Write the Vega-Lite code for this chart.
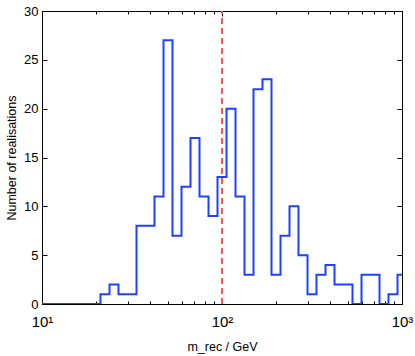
{
  "$schema": "https://vega.github.io/schema/vega-lite/v6.json",
  "width": 360,
  "height": 293,
  "autosize": {"type": "none"},
  "padding": {"left": 42, "top": 11, "right": 13, "bottom": 52},
  "background": "white",
  "config": {
    "font": "Liberation Sans",
    "view": {"stroke": "#000", "strokeWidth": 1},
    "axis": {"grid": false, "labelFlush": false, "labelOverlap": false, "domainColor": "#000", "tickColor": "#000", "labelColor": "#000", "titleColor": "#000", "labelFont": "Liberation Sans", "titleFont": "Liberation Sans", "labelFontSize": 13, "titleFontSize": 12.5, "titleFontWeight": "normal"}
  },
  "data": {"values": [
    {"m": 10, "n": 0},
    {"m": 21.135, "n": 1},
    {"m": 23.714, "n": 2},
    {"m": 26.607, "n": 1},
    {"m": 29.854, "n": 1},
    {"m": 33.497, "n": 8},
    {"m": 37.584, "n": 8},
    {"m": 42.170, "n": 11},
    {"m": 47.315, "n": 27},
    {"m": 53.088, "n": 7},
    {"m": 59.566, "n": 12},
    {"m": 66.834, "n": 17},
    {"m": 74.989, "n": 11},
    {"m": 84.140, "n": 9},
    {"m": 94.406, "n": 13},
    {"m": 105.93, "n": 20},
    {"m": 118.85, "n": 11},
    {"m": 133.35, "n": 3},
    {"m": 149.62, "n": 22},
    {"m": 167.88, "n": 23},
    {"m": 188.36, "n": 3},
    {"m": 211.35, "n": 7},
    {"m": 237.14, "n": 10},
    {"m": 266.07, "n": 5},
    {"m": 298.54, "n": 1},
    {"m": 334.97, "n": 3},
    {"m": 375.84, "n": 4},
    {"m": 421.70, "n": 2},
    {"m": 473.15, "n": 2},
    {"m": 530.88, "n": 0},
    {"m": 595.66, "n": 3},
    {"m": 668.34, "n": 3},
    {"m": 749.89, "n": 0},
    {"m": 841.40, "n": 1},
    {"m": 944.06, "n": 3},
    {"m": 1059.3, "n": 3}
  ]},
  "resolve": {"axis": {"x": "independent", "y": "independent"}},
  "layer": [
    {
      "mark": {"type": "line", "interpolate": "step-after", "color": "#2040ff", "strokeWidth": 2, "clip": true},
      "encoding": {
        "x": {"field": "m", "type": "quantitative",
          "scale": {"type": "log", "domain": [10, 1000], "nice": false},
          "axis": {"orient": "bottom", "title": "m_rec / GeV", "domain": false,
            "values": [10,20,30,40,50,60,70,80,90,100,200,300,400,500,600,700,800,900,1000],
            "labelExpr": "datum.value == 10 ? '10¹' : datum.value == 100 ? '10²' : datum.value == 1000 ? '10³' : ''",
            "tickSize": {"condition": {"test": "datum.value == 10 || datum.value == 100 || datum.value == 1000", "value": -5}, "value": -3},
            "labelPadding": 15, "titlePadding": 9, "labelFontSize": 15}},
        "y": {"field": "n", "type": "quantitative",
          "scale": {"domain": [0, 30], "nice": false, "zero": true},
          "axis": {"orient": "left", "title": "Number of realisations", "domain": false,
            "values": [0,5,10,15,20,25,30], "tickSize": -5, "labelPadding": 9, "titlePadding": 5}}
      }
    },
    {
      "mark": {"type": "rule", "color": "#ff5555", "strokeWidth": 1.5, "strokeDash": [6, 4]},
      "encoding": {
        "x": {"datum": 100, "type": "quantitative",
          "scale": {"type": "log", "domain": [10, 1000], "nice": false},
          "axis": {"orient": "top", "title": null, "labels": false, "domain": false,
            "values": [10,20,30,40,50,60,70,80,90,100,200,300,400,500,600,700,800,900,1000],
            "tickSize": {"condition": {"test": "datum.value == 10 || datum.value == 100 || datum.value == 1000", "value": -5}, "value": -3}}},
        "y": {"datum": 0, "type": "quantitative",
          "scale": {"domain": [0, 30], "nice": false, "zero": true},
          "axis": {"orient": "right", "title": null, "labels": false, "domain": false,
            "values": [0,5,10,15,20,25,30], "tickSize": -5}},
        "y2": {"datum": 30}
      }
    }
  ]
}
